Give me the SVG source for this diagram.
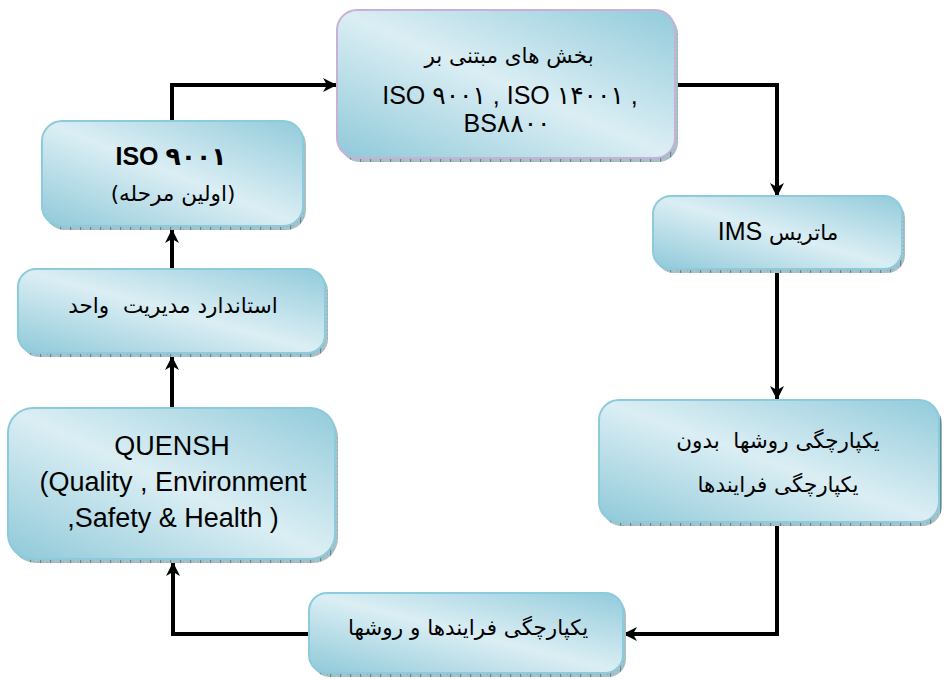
<svg xmlns="http://www.w3.org/2000/svg" width="944" height="680" viewBox="0 0 944 680">
<defs>
  <linearGradient id="boxfill" x1="1" y1="0" x2="0" y2="1">
    <stop offset="0" stop-color="#92cbdb"/>
    <stop offset="0.5" stop-color="#dbeef4"/>
    <stop offset="1" stop-color="#8fc9d9"/>
  </linearGradient>
  <pattern id="hatch" width="10" height="4" patternUnits="userSpaceOnUse">
    <rect width="10" height="4" fill="#a9c0c6"/>
    <rect x="0" y="0" width="1.2" height="4" fill="#5f8a95"/>
    <rect x="3" y="1" width="1" height="1" fill="#8aa9b1"/>
    <rect x="7" y="2" width="1" height="1" fill="#8aa9b1"/>
  </pattern>
  <marker id="arr" viewBox="0 0 14 14" refX="14" refY="7" markerWidth="14" markerHeight="14" markerUnits="userSpaceOnUse" orient="auto">
    <path d="M0,0 L14,7 L0,14 L4,7 z" fill="#000"/>
  </marker>
</defs>
<style>
  .shadow { fill: url(#hatch); }
  .box { fill: url(#boxfill); stroke: #8ccbdb; stroke-width: 2; }
  .boxp { fill: url(#boxfill); stroke: #c7b2d6; stroke-width: 2; }
  .lat { font-family: "Liberation Sans", "DejaVu Sans", sans-serif; fill: #000; text-anchor: middle; }
  .fa { font-family: "DejaVu Sans", sans-serif; fill: #000; text-anchor: middle; font-size: 21.5px; }
  .conn { fill: none; stroke: #000; stroke-width: 4; marker-end: url(#arr); }
</style>

<g id="connectors">
  <path class="conn" d="M172,121 V85 H337"/>
  <path class="conn" d="M675,85 H777 V197"/>
  <path class="conn" d="M777,272 V400"/>
  <path class="conn" d="M777,525 V634 H623"/>
  <path class="conn" d="M309,634 H173 V562"/>
  <path class="conn" d="M172,408 V356"/>
  <path class="conn" d="M172,269 V229"/>
</g>

<g id="node-top">
  <rect class="shadow" x="340" y="14" width="338" height="148" rx="20"/>
  <rect class="boxp" x="337" y="10" width="338" height="148" rx="20"/>
  <text class="fa" x="509" y="63" font-size="23" direction="rtl">بخش های مبتنی بر</text>
  <text class="lat" x="510" y="104" font-size="25" direction="ltr">ISO ۹۰۰۱ , ISO ۱۴۰۰۱ ,</text>
  <text class="lat" x="507" y="132" font-size="25" direction="ltr">BS۸۸۰۰</text>
</g>

<g id="node-iso9001">
  <rect class="shadow" x="45" y="125" width="261" height="105" rx="20"/>
  <rect class="box" x="42" y="121" width="261" height="105" rx="20"/>
  <text class="lat" x="171" y="165" font-size="25" font-weight="bold" direction="ltr">ISO ۹۰۰۱</text>
  <text class="fa" x="173" y="201" font-size="22" direction="rtl">(اولین مرحله)</text>
</g>

<g id="node-ims">
  <rect class="shadow" x="656" y="200" width="249" height="73" rx="18"/>
  <rect class="box" x="653" y="196" width="249" height="73" rx="18"/>
  <text class="fa" x="778" y="240" font-size="22" direction="rtl">ماتریس <tspan font-family="Liberation Sans, sans-serif" font-size="25">IMS</tspan></text>
</g>

<g id="node-standard">
  <rect class="shadow" x="21" y="273" width="307" height="84" rx="18"/>
  <rect class="box" x="18" y="269" width="307" height="84" rx="18"/>
  <text class="fa" x="173" y="313" direction="rtl" xml:space="preserve">استاندارد مدیریت  واحد</text>
</g>

<g id="node-quensh">
  <rect class="shadow" x="11" y="412" width="327" height="151" rx="25"/>
  <rect class="box" x="8" y="408" width="327" height="151" rx="25"/>
  <text class="lat" x="172" y="455" font-size="27">QUENSH</text>
  <text class="lat" x="173" y="491" font-size="27">(Quality , Environment</text>
  <text class="lat" x="173" y="527" font-size="27" direction="ltr">,Safety &amp; Health )</text>
</g>

<g id="node-right">
  <rect class="shadow" x="602" y="404" width="340" height="122" rx="20"/>
  <rect class="box" x="599" y="400" width="340" height="122" rx="20"/>
  <text class="fa" x="778" y="448" font-size="23" direction="rtl" xml:space="preserve">یکپارچگی روشها  بدون</text>
  <text class="fa" x="778" y="492" font-size="23" direction="rtl">یکپارچگی فرایندها</text>
</g>

<g id="node-bottom">
  <rect class="shadow" x="312" y="597" width="314" height="80" rx="18"/>
  <rect class="box" x="309" y="593" width="314" height="80" rx="18"/>
  <text class="fa" x="468" y="635" font-size="21.5" direction="rtl">یکپارچگی فرایندها و روشها</text>
</g>
</svg>
